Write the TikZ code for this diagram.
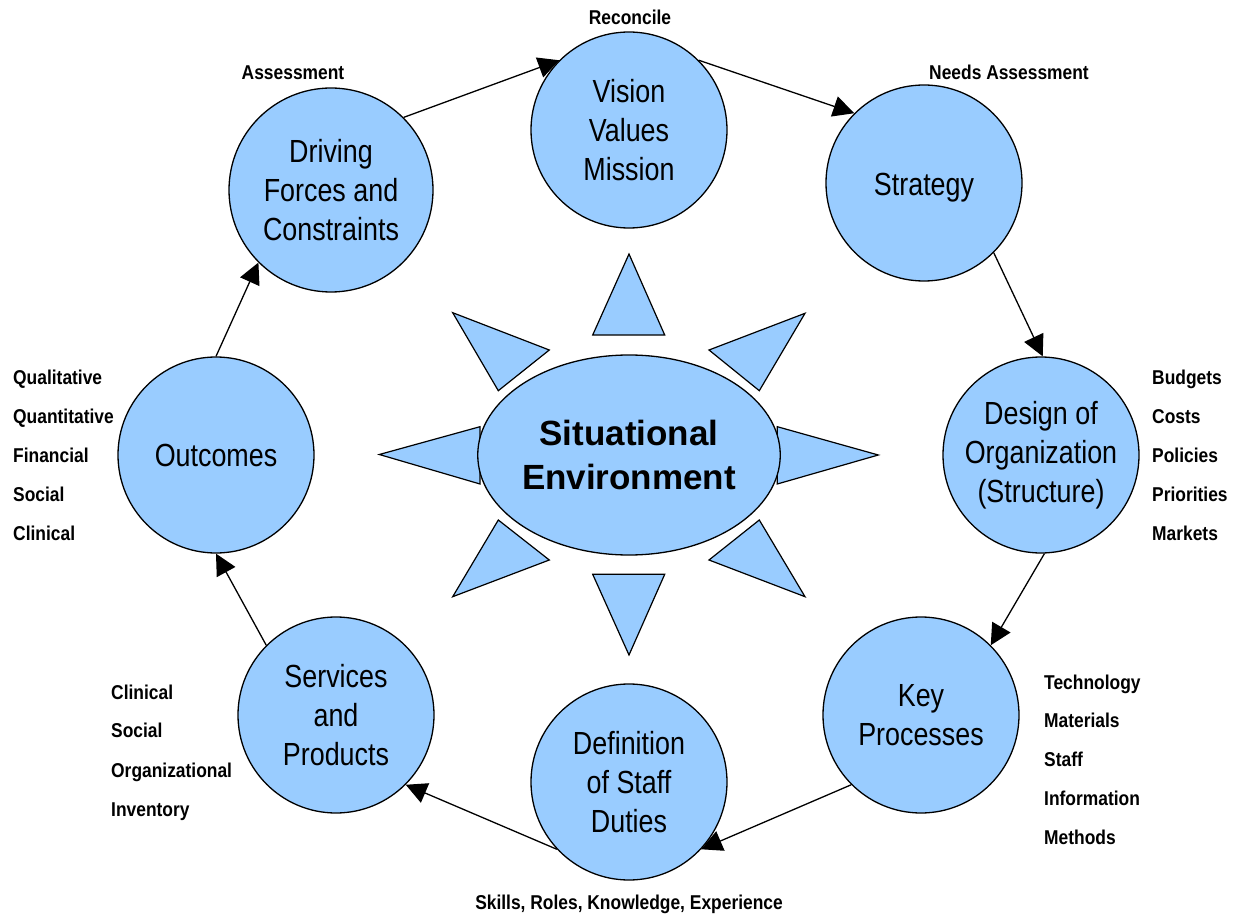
\documentclass[tikz,border=0pt]{standalone}
\usepackage{fontspec}
\setmainfont{Liberation Sans}
\newfontfamily\circfont[FakeStretch=0.84]{Liberation Sans}
\newfontfamily\labfont[FakeStretch=0.87]{Liberation Sans}
\usetikzlibrary{arrows.meta,shapes.geometric}
\definecolor{bubblue}{HTML}{99CCFF}
\tikzset{
  bub/.style={circle, draw=black, line width=1.3pt, fill=bubblue, minimum size=196pt, inner sep=0pt, align=center, font=\circfont\fontsize{32}{39}\selectfont},
  lab/.style={anchor=base west, inner sep=0pt, font=\labfont\bfseries\fontsize{20}{24}\selectfont},
  clab/.style={anchor=base, inner sep=0pt, font=\labfont\bfseries\fontsize{20}{24}\selectfont},
  arr/.style={line width=1.3pt, -{Triangle[length=21pt,width=21pt]}},
  tri/.style={draw=black, line width=1.2pt, fill=bubblue, line join=miter}
}
\begin{document}
\begin{tikzpicture}[x=1pt,y=-1pt]
\useasboundingbox (0,0) rectangle (1243,920);
% sun triangles
\draw[tri] (629,254) -- (664.7,335) -- (592.7,335) -- cycle;
\draw[tri] (452.7,312.7) -- (549.3,350) -- (498.3,390.7) -- cycle;
\draw[tri] (805,313.3) -- (709,350) -- (759.3,390.7) -- cycle;
\draw[tri] (379.3,454.5) -- (480,426.7) -- (480,484) -- cycle;
\draw[tri] (878.3,455) -- (777.3,426.7) -- (777.3,484) -- cycle;
\draw[tri] (498.3,520) -- (549.3,560) -- (452.7,596.7) -- cycle;
\draw[tri] (759.3,520) -- (709,560) -- (805,596.7) -- cycle;
\draw[tri] (592.7,574.3) -- (664.7,574.3) -- (629,655) -- cycle;
% centre
\node[ellipse, draw=black, line width=1.3pt, fill=bubblue, minimum width=249pt, minimum height=200pt, inner sep=0pt, align=center, font=\bfseries\fontsize{35}{44}\selectfont] (env) at (629,455) {Situational\\Environment};
% circles
\node[bub] (vis) at (629,130) {Vision\\Values\\Mission};
\node[bub] (str) at (924,183) {\raisebox{-13pt}[0pt][0pt]{Strategy}};
\node[bub] (des) at (1041,455) {Design of\\Organization\\(Structure)};
\node[bub] (key) at (921,715) {Key\\Processes};
\node[bub] (def) at (629,782) {Definition\\of Staff\\Duties};
\node[bub] (svc) at (336,715) {Services\\and\\Products};
\node[bub] (out) at (216,455) {Outcomes};
\node[bub, minimum size=204pt] (drv) at (331,190) {Driving\\Forces and\\Constraints};
% arrows
\draw[arr] (drv.45) -- (vis.135);
\draw[arr] (vis.45) -- (str.135);
\draw[arr] (str.-45) -- (des.89);
\draw[arr] (des.-88) -- (key.45);
\draw[arr] (key.225) -- (def.-43);
\draw[arr] (def.223) -- (svc.-45);
\draw[arr] (svc.135) -- (out.south);
\draw[arr] (out.north) -- (drv.225);
% labels
\node[clab] (l1) at (630,25) {Reconcile};
\node[clab] (l2) at (293,80) {Assessment};
\node[clab] (l3) at (1009,80) {Needs Assessment};
\node[clab] (l4) at (629,909) {Skills, Roles, Knowledge, Experience};
\node[lab] (b1) at (1152,384) {Budgets};
\node[lab] (b2) at (1152,423) {Costs};
\node[lab] (b3) at (1152,462) {Policies};
\node[lab] (b4) at (1152,501) {Priorities};
\node[lab] (b5) at (1152,540) {Markets};
\node[lab] (k1) at (1044,689) {Technology};
\node[lab] (k2) at (1044,727) {Materials};
\node[lab] (k3) at (1044,766) {Staff};
\node[lab] (k4) at (1044,805) {Information};
\node[lab] (k5) at (1044,844) {Methods};
\node[lab] (s1) at (111,699) {Clinical};
\node[lab] (s2) at (111,737) {Social};
\node[lab] (s3) at (111,777) {Organizational};
\node[lab] (s4) at (111,816) {Inventory};
\node[lab] (o1) at (13,384) {Qualitative};
\node[lab] (o2) at (13,423) {Quantitative};
\node[lab] (o3) at (13,462) {Financial};
\node[lab] (o4) at (13,501) {Social};
\node[lab] (o5) at (13,540) {Clinical};
\end{tikzpicture}
\end{document}
